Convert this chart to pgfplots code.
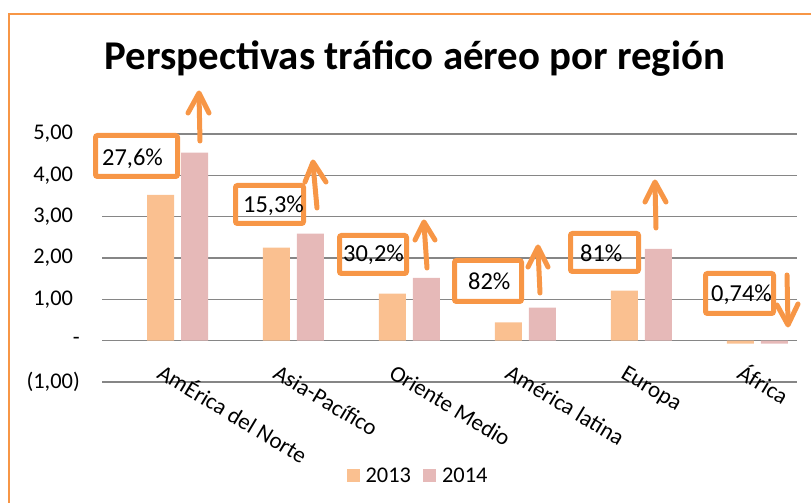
\documentclass[border=0pt]{standalone}
\usepackage{pgfplots}
\pgfplotsset{compat=1.18}
\usepackage{fontspec}
\setmainfont{Carlito}
\definecolor{c2013}{RGB}{250,192,144}
\definecolor{c2014}{RGB}{230,185,184}
\definecolor{naranja}{RGB}{247,150,70}
\definecolor{rejilla}{RGB}{134,134,134}

\begin{document}
\begin{tikzpicture}
\useasboundingbox (0,0) rectangle (811bp,503bp);
\begin{axis}[
  at={(102bp,121bp)}, anchor=south west,
  scale only axis, width=695bp, height=248bp,
  xmin=-0.651, xmax=5.341, ymin=-1, ymax=5,
  ybar, bar width=27bp, ybar=7bp,
  axis line style={draw=none}, major tick length=0pt,
  ymajorgrids, grid style={rejilla, line width=1.3bp},
  ytick={-1,0,1,2,3,4,5},
  yticklabels={{(1,00)},{-\hspace{11bp}},{1,00\hphantom{)}},{2,00\hphantom{)}},{3,00\hphantom{)}},{4,00\hphantom{)}},{5,00\hphantom{)}}},
  yticklabel style={anchor=east, inner sep=0pt, xshift=-22bp, font=\fontsize{22.5}{26}\selectfont},
  xtick={0,1,2,3,4,5},
  xticklabels={AmÉrica del Norte, Asia-Pacífico, Oriente Medio, América latina, Europa, África},
  xticklabel style={xshift=-14bp, yshift=18bp, rotate=-31, anchor=north west, inner sep=0pt,
    text height=15bp, text depth=5bp, font=\fontsize{23}{27}\selectfont},
  legend style={at={(0.4576,-0.379)}, anchor=center, draw=none, fill=none,
    legend columns=-1, font=\fontsize{22.5}{26}\selectfont,
    nodes={inner xsep=6bp},
    /tikz/every even column/.append style={column sep=6bp}},
  legend image code/.code={\fill[#1,draw=none] (0bp,-6.5bp) rectangle (13bp,6.5bp);},
]
\addplot[fill=c2013, draw=none] coordinates {(0,3.53) (1,2.25) (2,1.14) (3,0.44) (4,1.21) (5,-0.07)};
\addplot[fill=c2014, draw=none] coordinates {(0,4.55) (1,2.59) (2,1.52) (3,0.80) (4,2.22) (5,-0.07)};
\legend{2013, 2014}
\end{axis}

% anotaciones en coordenadas de pixel (y hacia abajo)
\begin{scope}[x=1bp, y=-1bp, yshift=503bp]
  \draw[naranja, line width=1.5bp] (9,520) -- (9,14) -- (830,14);
  \node[font=\fontsize{41}{48}\selectfont\bfseries, anchor=base] at (415,70) {Perspectivas tráfico aéreo por región};

  \begin{scope}[naranja, line width=5bp, rounded corners=2bp]
    \draw (95.5,135.5) rectangle (177.5,176.5);
    \draw (235.5,185.5) rectangle (303.5,223.5);
    \draw (339.5,235.5) rectangle (406.5,273.5);
    \draw (454.5,260.5) rectangle (521.5,301.5);
    \draw (570.5,233.5) rectangle (638.5,271.5);
    \draw (705.5,273.5) rectangle (773.5,313.5);
  \end{scope}
  \begin{scope}[font=\fontsize{24.5}{28}\selectfont, inner sep=0pt]
    \node[anchor=base west] at (102,166) {27,6\%};
    \node[anchor=base west] at (243,213) {15,3\%};
    \node[anchor=base west] at (343,262) {30,2\%};
    \node[anchor=base west] at (468,290) {82\%};
    \node[anchor=base west] at (580,262) {81\%};
    \node[anchor=base west] at (711,302) {0,74\%};
  \end{scope}
  \begin{scope}[naranja, line width=5bp, line cap=round, line join=round]
    \draw (200,141) -- (199,95);  \draw (188,113) -- (199,93) -- (209,113);
    \draw (317,208) -- (313,164); \draw (305,182) -- (313,162) -- (326,182);
    \draw (427,268) -- (424,224); \draw (415,240) -- (424,222) -- (435,240);
    \draw (540,293) -- (538,249); \draw (528,267) -- (538,247) -- (548,267);
    \draw (656,228) -- (655,184); \draw (645,202) -- (655,182) -- (666,202);
    \draw (787,275) -- (788,323); \draw (777,305) -- (788,325) -- (798,304);
  \end{scope}
\end{scope}
\end{tikzpicture}
\end{document}
